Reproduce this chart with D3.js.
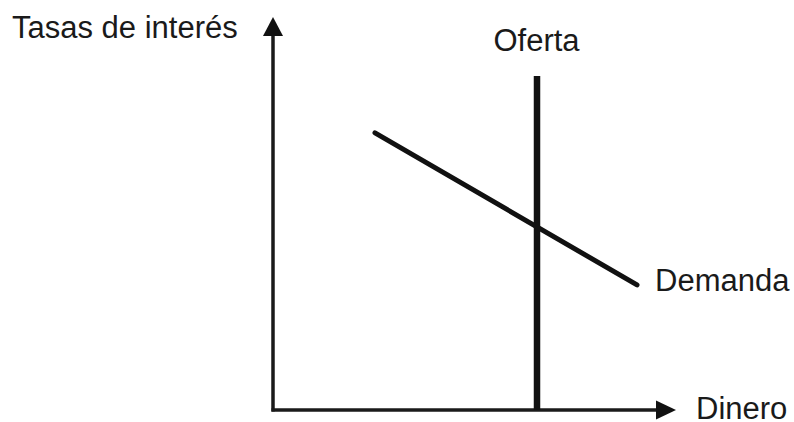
<!DOCTYPE html>
<html>
<head>
<meta charset="utf-8">
<script src="https://cdn.jsdelivr.net/npm/d3@7"></script>
<style>
  html, body { margin: 0; padding: 0; background: #fff; }
  svg text { font-family: "Liberation Sans", Arial, sans-serif; fill: #1a1a1a; }
</style>
</head>
<body>
<div class="chart"></div>
<script>
// money market sketch: fixed supply, downward sloping demand
const axisLabels = ["Tasas de interés", "Dinero"];
const supplyLabel = "Oferta";
const demandLabel = "Demanda";
const supplyQ = [66, 66];
const supplyRate = [0, 85.2];
const demandQ = [25.5, 91];
const demandRate = [70.7, 31.9];

const width = 794, height = 422;

var svg = d3.select(".chart").append("svg")
        .attr("width", width)
        .attr("height", height);

var x = d3.scaleLinear().domain([0, 100]).range([273, 673]);
var y = d3.scaleLinear().domain([0, 100]).range([410, 18]);

var line = d3.line()
        .x((d) => x(d[0]))
        .y((d) => y(d[1]));

// axes (no ticks, just arrows)
svg.append("line")
        .attr("x1", x(0)).attr("y1", y(0) + 1.5)
        .attr("x2", x(0)).attr("y2", y(100) + 14)
        .attr("stroke", "#1a1a1a")
        .attr("stroke-width", 3.5);
svg.append("line")
        .attr("x1", x(0) - 1.5).attr("y1", y(0))
        .attr("x2", x(100) - 14).attr("y2", y(0))
        .attr("stroke", "#1a1a1a")
        .attr("stroke-width", 3.5);

svg.append("path")
        .attr("d", `M${x(0)},${y(100) - 1} L${x(0) + 10},${y(100) + 18} L${x(0) - 10},${y(100) + 18}Z`)
        .attr("fill", "#111");
svg.append("path")
        .attr("d", `M${x(100) + 3},${y(0)} L${x(100) - 17},${y(0) - 9.5} L${x(100) - 17},${y(0) + 9.5}Z`)
        .attr("fill", "#111");

// supply
svg.append("path")
        .datum(d3.zip(supplyQ, supplyRate))
        .attr("d", line)
        .attr("fill", "none")
        .attr("stroke", "#111")
        .attr("stroke-width", 6.5);

// demand
svg.append("path")
        .datum(d3.zip(demandQ, demandRate))
        .attr("d", line)
        .attr("fill", "none")
        .attr("stroke", "#111")
        .attr("stroke-width", 5)
        .attr("stroke-linecap", "round");

// labels
svg.append("text")
        .text(axisLabels[0])
        .attr("x", 12)
        .attr("y", 38)
        .style("font-size", "31px");
svg.append("text")
        .text(axisLabels[1])
        .attr("x", 696)
        .attr("y", 419)
        .style("font-size", "31px");
svg.append("text")
        .text(supplyLabel)
        .attr("x", x(supplyQ[1]) - 0.5)
        .attr("y", 51)
        .attr("text-anchor", "middle")
        .style("font-size", "31px");
svg.append("text")
        .text(demandLabel)
        .attr("x", 655)
        .attr("y", 291)
        .style("font-size", "31px");
</script>
</body>
</html>
